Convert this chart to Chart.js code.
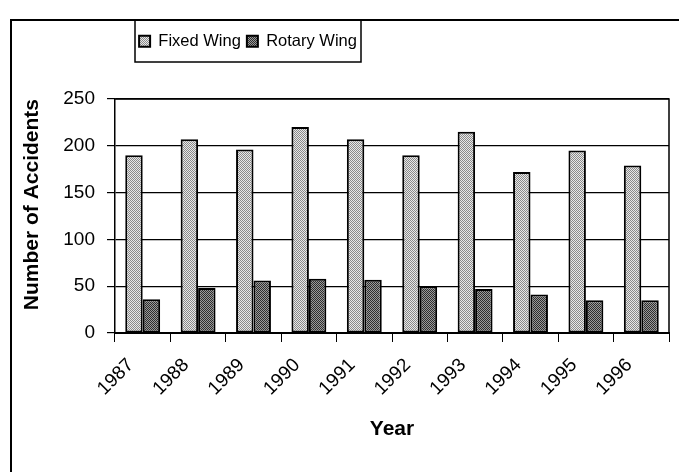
<!DOCTYPE html>
<html>
<head>
<meta charset="utf-8">
<script src="https://cdn.jsdelivr.net/npm/chart.js@4.4.1/dist/chart.umd.min.js"></script>
<style>
  html, body { margin: 0; padding: 0; background: #fff; }
  #wrap { width: 679px; height: 472px; }
</style>
</head>
<body>
<div id="wrap"><canvas id="accidentsChart" width="679" height="472"></canvas></div>
<script>
const years = ["1987", "1988", "1989", "1990", "1991", "1992", "1993", "1994", "1995", "1996"];
const fixedWing = [190, 207, 196, 220, 207, 190, 215, 172, 195, 179];
const rotaryWing = [36, 48, 56, 58, 57, 50, 47, 41, 35, 35];
const yTicks = [0, 50, 100, 150, 200, 250];

const canvas = document.getElementById("accidentsChart");
const ctx = canvas.getContext("2d");

// scanned-looking dither fills
function dither(dark, light) {
    const c = document.createElement("canvas");
    c.width = 2;
    c.height = 2;
    const g = c.getContext("2d");
    g.fillStyle = light;
    g.fillRect(0, 0, 2, 2);
    g.fillStyle = dark;
    g.fillRect(0, 0, 1, 1);
    g.fillRect(1, 1, 1, 1);
    return ctx.createPattern(c, "repeat");
}

const fixedFill = dither("#8a8a8a", "#e8e8e8");
const rotaryFill = dither("#2e2e2e", "#9a9a9a");

const font = "'Liberation Sans', Arial, sans-serif";

const framePlugin = {
    id: "frame",
    beforeDraw(chart) {
        const c = chart.ctx;
        c.save();
        c.fillStyle = "#fff";
        c.fillRect(0, 0, chart.width, chart.height);
        c.strokeStyle = "#000";
        c.lineWidth = 2;
        c.beginPath();
        c.moveTo(11, chart.height);
        c.lineTo(11, 20);
        c.lineTo(chart.width, 20);
        c.stroke();
        c.restore();
    },
    afterLayout(chart) {
        // legend sits in a box hung from the frame's top edge
        const lg = chart.legend;
        lg.left = 120;
        lg.right = 376;
        lg.width = 256;
        lg.top = 27;
        lg.bottom = 55;
    },
    afterDatasetsDraw(chart) {
        const a = chart.chartArea;
        const c = chart.ctx;
        c.save();
        c.strokeStyle = "#000";
        c.lineWidth = 1.5;
        c.beginPath();
        c.moveTo(a.left, a.top);
        c.lineTo(a.right, a.top);
        c.lineTo(a.right, a.bottom);
        c.stroke();
        c.restore();
    },
    afterDraw(chart) {
        const c = chart.ctx;
        c.save();
        c.strokeStyle = "#000";
        c.lineWidth = 1.5;
        c.strokeRect(135, 20, 226, 42);
        c.restore();
    }
};

new Chart(canvas, {
    type: "bar",
    data: {
        labels: years,
        datasets: [{
            label: "Fixed Wing",
            data: fixedWing,
            backgroundColor: fixedFill,
            borderColor: "#000",
            borderWidth: 2,
            borderSkipped: false
        }, {
            label: "Rotary Wing",
            data: rotaryWing,
            backgroundColor: rotaryFill,
            borderColor: "#000",
            borderWidth: 2,
            borderSkipped: false
        }]
    },
    options: {
        responsive: false,
        animation: false,
        layout: { padding: { top: 66.5, left: 12, right: 10, bottom: 30 } },
        datasets: {
            bar: { categoryPercentage: 0.63, barPercentage: 1.0 }
        },
        plugins: {
            legend: {
                position: "top",
                align: "center",
                labels: {
                    color: "#000",
                    font: { family: font, size: 16.5 },
                    boxWidth: 11,
                    boxHeight: 11,
                    padding: 6
                }
            },
            tooltip: { enabled: false }
        },
        scales: {
            x: {
                afterFit(scale) {
                    scale.height = 109;
                },
                grid: { display: true, drawOnChartArea: false, color: "#000", tickLength: 9, lineWidth: 1 },
                border: { display: true, color: "#000", width: 2 },
                ticks: {
                    color: "#000",
                    font: { family: font, size: 19 },
                    minRotation: 45,
                    maxRotation: 45,
                    autoSkip: false,
                    padding: 12,
                    labelOffset: -12
                },
                title: {
                    display: true,
                    text: "Year",
                    color: "#000",
                    font: { family: font, size: 21, weight: "bold" },
                    padding: { top: 14, bottom: 0 }
                }
            },
            y: {
                min: 0,
                max: 250,
                afterBuildTicks(scale) {
                    scale.ticks = yTicks.map(v => ({ value: v }));
                },
                afterFit(scale) {
                    scale.width = 103;
                },
                grid: { color: "#000", lineWidth: 1.2, tickLength: 8 },
                border: { display: true, color: "#000", width: 1.5 },
                ticks: {
                    color: "#000",
                    font: { family: font, size: 19 },
                    padding: 12
                },
                title: {
                    display: true,
                    text: "Number of Accidents",
                    align: "end",
                    color: "#000",
                    font: { family: font, size: 21, weight: "bold" },
                    padding: { top: 8, bottom: 10 }
                }
            }
        }
    },
    plugins: [framePlugin]
});
</script>
</body>
</html>
